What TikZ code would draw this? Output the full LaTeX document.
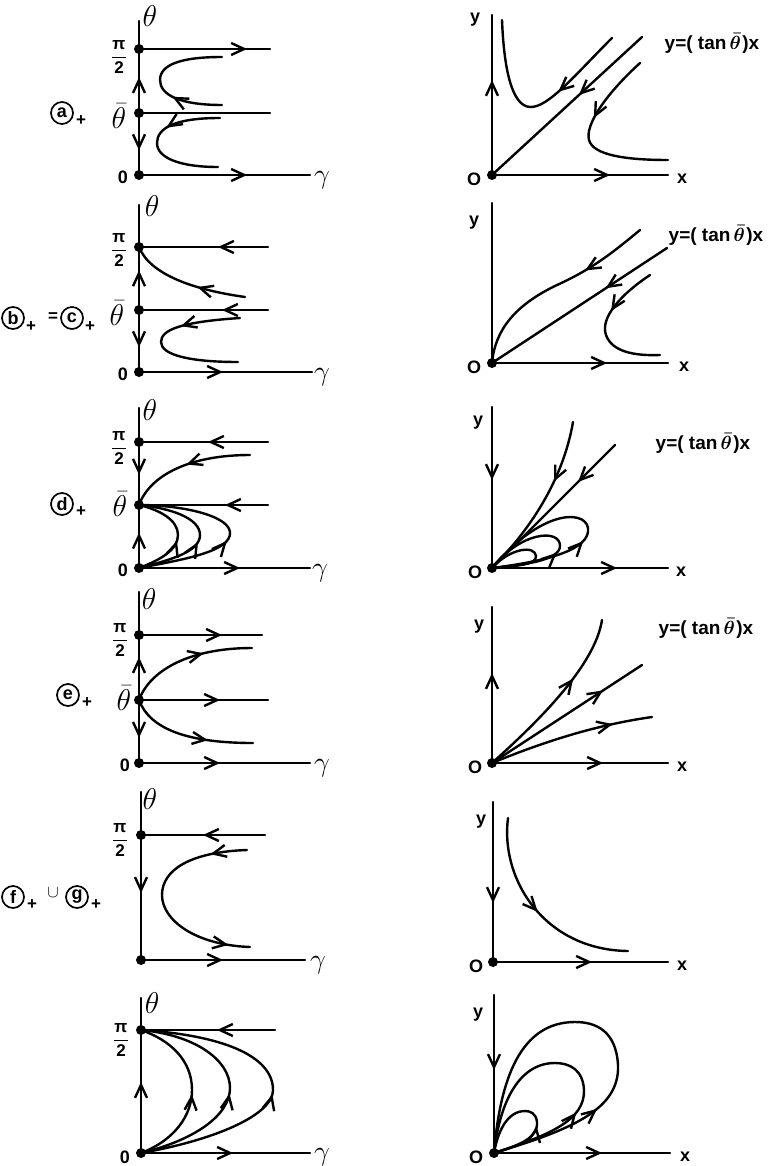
\RequirePackage{fix-cm}
\documentclass[tikz,border=0pt]{standalone}
\usepackage{fontspec}
\setsansfont{Liberation Sans}
\usetikzlibrary{arrows.meta,decorations.markings}
\newcommand\hpi{$\displaystyle\frac{\mbox{\sffamily\bfseries π}}{\mbox{\sffamily\bfseries 2}}$}
\newcommand\eqtxt{y=( tan\,$\bar{\theta}$\kern1.5pt)x}
\begin{document}
\begin{tikzpicture}[x=1pt,y=-1pt,
  ln/.style={line width=2.4pt, line cap=round},
  tipA/.style={postaction={decorate,decoration={markings,mark=at position #1 with {\arrow{Straight Barb[length=13pt,width=12pt]}}}}},
  tipR/.style={postaction={decorate,decoration={markings,mark=at position #1 with {\arrowreversed{Straight Barb[length=13pt,width=12pt]}}}}},
  dot/.style={circle,fill,inner sep=0pt,minimum size=10pt},
  lbl/.style={font=\sffamily\bfseries\fontsize{18}{18}\selectfont, inner sep=0pt},
  pil/.style={font=\fontsize{17}{17}\selectfont, inner sep=0pt},
  grk/.style={font=\fontsize{30}{30}\selectfont, inner sep=0pt},
  gam/.style={font=\fontsize{28}{28}\selectfont, inner sep=0pt},
  eq/.style={font=\sffamily\bfseries\fontsize{19}{19}\selectfont\boldmath, inner sep=0pt},
  circ/.style={circle,draw,line width=1.7pt,minimum size=22pt,inner sep=0pt,font=\sffamily\bfseries\fontsize{18}{18}\selectfont},
  pls/.style={font=\sffamily\bfseries\fontsize{17}{17}\selectfont, inner sep=0pt},
]
\fill[white] (0,0) rectangle (771,1166);
\useasboundingbox (0,0) rectangle (771,1166);

% ================= panel a =================
\coordinate (aP) at (139,49); \coordinate (aT) at (139,113); \coordinate (aO) at (139,175);
\coordinate (aTop) at (139,21); \coordinate (aPe) at (270,49); \coordinate (aTe) at (270,113); \coordinate (aOe) at (310,175);
\draw[ln] (aP) -- (aTop);
\draw[ln,tipA=0.56] (aT) -- (aP);
\draw[ln,tipA=0.6] (aT) -- (aO);
\draw[ln,tipA=108pt] (aP) -- (aPe);
\draw[ln] (aT) -- (aTe);
\draw[ln,tipA=108pt] (aO) -- (aOe);
\draw[ln,tipA=0.35] (222,105) .. controls (180,105) and (160,95) .. (160,80) .. controls (160,65) and (180,57) .. (222,57);
\draw[ln,tipA=0.38] (220,118) .. controls (175,118) and (157,128) .. (157,143) .. controls (157,158) and (180,167) .. (218,167);
\foreach \p in {aP,aT,aO} \node[dot] at (\p) {};
\node[grk] (aTh) at (150,16) {$\theta$};
\node[pil] (aPi) at (119,57) {\hpi};
\node[grk] (aTb) at (119,116) {$\bar{\theta}$};
\node[lbl] (aZ) at (123,177) {0};
\node[gam] (aG) at (322,180) {$\gamma$};
\node[circ] (aC) at (62,113) {a};
\node[pls] (aCp) at (81,121) {+};

\coordinate (aRO) at (492,175); \coordinate (aRy) at (492,15); \coordinate (aRx) at (668,175);
\draw[ln,tipA=95pt] (aRO) -- (aRy);
\draw[ln,tipA=118pt] (aRO) -- (aRx);
\draw[ln,tipA=0.42] (642,37) -- (aRO);
\draw[ln,tipA=0.37] (612,38) .. controls (575,75) and (548,108) .. (530,107) .. controls (512,106) and (504,70) .. (502,20);
\draw[ln,tipA=0.4] (640,63) .. controls (605,95) and (585,125) .. (589,140) .. controls (593,155) and (625,160) .. (668,160);
\node[dot] at (aRO) {};
\node[lbl] (aRyl) at (475,20) {y};
\node[lbl] (aRxl) at (682,179) {x};
\node[lbl] (aROl) at (474,179) {O};
\node[eq] (aEq) at (712,43) {\eqtxt};

% ================= panel b =================
\coordinate (bP) at (139,247); \coordinate (bT) at (139,310); \coordinate (bO) at (139,372);
\coordinate (bTop) at (139,205); \coordinate (bPe) at (268,247); \coordinate (bTe) at (268,310); \coordinate (bOe) at (312,372);
\draw[ln] (bP) -- (bTop);
\draw[ln,tipA=0.63] (bT) -- (bP);
\draw[ln,tipA=0.6] (bT) -- (bO);
\draw[ln,tipR=79pt] (bP) -- (bPe);
\draw[ln,tipR=83pt] (bT) -- (bTe);
\draw[ln,tipA=84pt] (bO) -- (bOe);
\draw[ln,tipA=0.4] (245,297) .. controls (195,290) and (150,275) .. (bP);
\draw[ln,tipA=0.35] (240,318) .. controls (180,322) and (161,330) .. (161,342) .. controls (161,355) and (190,362) .. (238,362);
\foreach \p in {bP,bT,bO} \node[dot] at (\p) {};
\node[grk] (bTh) at (152,206) {$\theta$};
\node[pil] (bPi) at (119,250) {\hpi};
\node[grk] (bTb) at (117,313) {$\bar{\theta}$};
\node[lbl] (bZ) at (123,374) {0};
\node[gam] (bG) at (322,377) {$\gamma$};
\node[circ] (bC) at (13,318) {b};
\node[pls] (bCp) at (31,327) {+};
\node[pls] (bEqs) at (53,317) {=};
\node[circ] (cC) at (72,318) {c};
\node[pls] (cCp) at (90,327) {+};

\coordinate (bRO) at (492,363); \coordinate (bRy) at (492,203); \coordinate (bRx) at (668,363);
\draw[ln] (bRO) -- (bRy);
\draw[ln,tipA=115pt] (bRO) -- (bRx);
\draw[ln,tipA=0.35] (667,248) -- (bRO);
\draw[ln,tipA=0.33] (640,230) .. controls (610,255) and (590,270) .. (557,285) .. controls (515,305) and (495,330) .. (bRO);
\draw[ln,tipA=0.38] (650,275) .. controls (620,295) and (600,318) .. (606,335) .. controls (612,352) and (635,356) .. (660,355);
\node[dot] at (bRO) {};
\node[lbl] (bRyl) at (474,223) {y};
\node[lbl] (bRxl) at (684,367) {x};
\node[lbl] (bROl) at (474,367) {O};
\node[eq] (bEq) at (716,235) {\eqtxt};

% ================= panel d =================
\coordinate (dP) at (139,442); \coordinate (dT) at (139,505); \coordinate (dO) at (139,568);
\coordinate (dTop) at (139,408); \coordinate (dPe) at (268,442); \coordinate (dTe) at (268,505); \coordinate (dOe) at (310,568);
\draw[ln] (dP) -- (dTop);
\draw[ln,tipA=0.52] (dP) -- (dT);
\draw[ln,tipA=0.56] (dO) -- (dT);
\draw[ln,tipR=69pt] (dP) -- (dPe);
\draw[ln,tipR=86pt] (dT) -- (dTe);
\draw[ln,tipA=101pt] (dO) -- (dOe);
\draw[ln,tipA=0.5] (250,455) .. controls (190,455) and (150,475) .. (dT);
\draw[ln,tipA=0.46] (dO) .. controls (180,560) and (232,552) .. (230,532) .. controls (228,515) and (180,505) .. (dT);
\draw[ln,tipA=0.45] (dO) .. controls (170,560) and (200,552) .. (200,535) .. controls (200,518) and (170,508) .. (dT);
\draw[ln,tipA=0.45] (dO) .. controls (160,560) and (178,550) .. (178,535) .. controls (178,520) and (160,510) .. (dT);
\foreach \p in {dP,dT,dO} \node[dot] at (\p) {};
\node[grk] (dTh) at (150,410) {$\theta$};
\node[pil] (dPi) at (119,448) {\hpi};
\node[grk] (dTb) at (120,504) {$\bar{\theta}$};
\node[lbl] (dZ) at (123,570) {0};
\node[gam] (dG) at (320,573) {$\gamma$};
\node[circ] (dC) at (62,504) {d};
\node[pls] (dCp) at (81,512) {+};

\coordinate (dRO) at (492,568); \coordinate (dRy) at (492,407); \coordinate (dRx) at (668,568);
\draw[ln,tipA=73pt] (dRy) -- (dRO);
\draw[ln,tipA=125pt] (dRO) -- (dRx);
\draw[ln,tipA=0.3] (615,445) -- (dRO);
\draw[ln,tipA=0.37] (573,422) .. controls (563,480) and (530,530) .. (dRO);
\draw[ln,tipA=0.42] (dRO) .. controls (540,562) and (585,552) .. (588,532) .. controls (591,510) and (545,505) .. (dRO);
\draw[ln,tipA=0.42] (dRO) .. controls (525,565) and (560,560) .. (560,546) .. controls (560,528) and (520,532) .. (dRO);
\draw[ln] (dRO) .. controls (515,566) and (537,565) .. (536,556) .. controls (535,545) and (510,548) .. (dRO);
\node[dot] at (dRO) {};
\node[lbl] (dRyl) at (478,423) {y};
\node[lbl] (dRxl) at (681,572) {x};
\node[lbl] (dROl) at (475,572) {O};
\node[eq] (dEq) at (703,443) {\eqtxt};

% ================= panel e =================
\coordinate (eP) at (139,635); \coordinate (eT) at (139,700); \coordinate (eO) at (139,763);
\coordinate (eTop) at (139,592); \coordinate (ePe) at (262,635); \coordinate (eTe) at (268,700); \coordinate (eOe) at (310,763);
\draw[ln] (eP) -- (eTop);
\draw[ln,tipA=0.66] (eT) -- (eP);
\draw[ln,tipA=0.6] (eT) -- (eO);
\draw[ln,tipA=83pt] (eP) -- (ePe);
\draw[ln,tipA=81pt] (eT) -- (eTe);
\draw[ln,tipA=81pt] (eO) -- (eOe);
\draw[ln,tipA=0.63] (eT) .. controls (150,670) and (190,648) .. (252,648);
\draw[ln,tipA=0.65] (eT) .. controls (150,730) and (190,743) .. (253,743);
\foreach \p in {eP,eT,eO} \node[dot] at (\p) {};
\node[grk] (eTh) at (149,599) {$\theta$};
\node[pil] (ePi) at (120,640) {\hpi};
\node[grk] (eTb) at (124,698) {$\bar{\theta}$};
\node[lbl] (eZ) at (125,765) {0};
\node[gam] (eG) at (322,768) {$\gamma$};
\node[circ] (eC) at (68,695) {e};
\node[pls] (eCp) at (87,703) {+};

\coordinate (eRO) at (492,763); \coordinate (eRy) at (492,607); \coordinate (eRx) at (668,763);
\draw[ln,tipA=90pt] (eRO) -- (eRy);
\draw[ln,tipA=111pt] (eRO) -- (eRx);
\draw[ln,tipA=0.64] (eRO) .. controls (540,720) and (595,665) .. (602,620);
\draw[ln,tipA=0.74] (eRO) -- (642,665);
\draw[ln,tipA=0.76] (eRO) .. controls (560,735) and (610,723) .. (652,717);
\node[dot] at (eRO) {};
\node[lbl] (eRyl) at (479,627) {y};
\node[lbl] (eRxl) at (682,767) {x};
\node[lbl] (eROl) at (475,767) {O};
\node[eq] (eEq) at (706,628) {\eqtxt};

% ================= panel f =================
\coordinate (fP) at (141,835); \coordinate (fO) at (141,960);
\coordinate (fTop) at (141,792); \coordinate (fPe) at (265,835); \coordinate (fOe) at (305,960);
\draw[ln] (fP) -- (fTop);
\draw[ln,tipA=58pt] (fP) -- (fO);
\draw[ln,tipR=62pt] (fP) -- (fPe);
\draw[ln,tipA=82pt] (fO) -- (fOe);
\draw[ln,tipA=0.17,tipA=0.9] (247,850) .. controls (190,852) and (162,870) .. (162,895) .. controls (162,920) and (195,945) .. (250,947);
\foreach \p in {fP,fO} \node[dot] at (\p) {};
\node[grk] (fTh) at (150,799) {$\theta$};
\node[pil] (fPi) at (120,840) {\hpi};
\node[gam] (fG) at (318,965) {$\gamma$};
\node[circ] (fC) at (13,897) {f};
\node[pls] (fCp) at (32,905) {+};
\node[pls] (fCup) at (53,893) {$\cup$};
\node[circ] (gC) at (77,897) {g};
\node[pls] (gCp) at (96,905) {+};

\coordinate (fRO) at (493,962); \coordinate (fRy) at (493,802); \coordinate (fRx) at (668,962);
\draw[ln,tipA=101pt] (fRy) -- (fRO);
\draw[ln,tipA=99pt] (fRO) -- (fRx);
\draw[ln,tipA=0.5] (508,818) .. controls (500,880) and (545,950) .. (628,951);
\node[dot] at (fRO) {};
\node[lbl] (fRyl) at (481,822) {y};
\node[lbl] (fRxl) at (682,966) {x};
\node[lbl] (fROl) at (476,966) {O};

% ================= panel g =================
\coordinate (gP) at (141,1030); \coordinate (gO) at (141,1153);
\coordinate (gTop) at (141,998); \coordinate (gPe) at (275,1030); \coordinate (gOe) at (310,1153);
\draw[ln] (gP) -- (gTop);
\draw[ln,tipA=71pt] (gO) -- (gP);
\draw[ln,tipR=76pt] (gP) -- (gPe);
\draw[ln,tipA=92pt] (gO) -- (gOe);
\draw[ln,tipA=0.48] (gO) .. controls (175,1140) and (192,1115) .. (192,1090) .. controls (192,1060) and (170,1040) .. (gP);
\draw[ln,tipA=0.48] (gO) .. controls (195,1140) and (230,1115) .. (230,1088) .. controls (230,1060) and (195,1035) .. (gP);
\draw[ln,tipA=0.48] (gO) .. controls (215,1140) and (273,1115) .. (273,1090) .. controls (273,1055) and (220,1035) .. (gP);
\foreach \p in {gP,gO} \node[dot] at (\p) {};
\node[grk] (gTh) at (152,1003) {$\theta$};
\node[pil] (gPi) at (121,1040) {\hpi};
\node[lbl] (gZ) at (125,1157) {0};
\node[gam] (gG) at (322,1157) {$\gamma$};

\coordinate (gRO) at (494,1153); \coordinate (gRy) at (494,995); \coordinate (gRx) at (670,1153);
\draw[ln,tipA=75pt] (gRy) -- (gRO);
\draw[ln,tipA=108pt] (gRO) -- (gRx);
\draw[ln,tipA=0.28] (gRO) .. controls (570,1130) and (620,1110) .. (618,1065) .. controls (616,1030) and (595,1022) .. (575,1022) .. controls (520,1022) and (500,1080) .. (gRO);
\draw[ln,tipA=0.33] (gRO) .. controls (550,1135) and (585,1120) .. (584,1090) .. controls (583,1070) and (570,1063) .. (555,1063) .. controls (520,1063) and (500,1100) .. (gRO);
\draw[ln,tipA=0.4] (gRO) .. controls (520,1145) and (538,1138) .. (537,1122) .. controls (536,1113) and (530,1111) .. (525,1111) .. controls (508,1111) and (498,1130) .. (gRO);
\node[dot] at (gRO) {};
\node[lbl] (gRyl) at (478,1015) {y};
\node[lbl] (gRxl) at (685,1157) {x};
\node[lbl] (gROl) at (476,1157) {O};
\end{tikzpicture}
\end{document}
